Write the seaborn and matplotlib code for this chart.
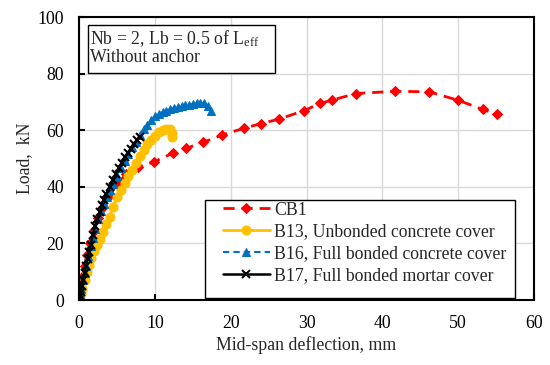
import numpy as np
import pandas as pd
import matplotlib
matplotlib.use("Agg")
import matplotlib.pyplot as plt
from matplotlib.patches import Rectangle
import seaborn as sns

sns.set_style("ticks")
plt.rcParams['font.family'] = ['Liberation Serif', 'DejaVu Serif']
plt.rcParams['mathtext.fontset'] = 'custom'
plt.rcParams['mathtext.rm'] = 'Liberation Serif'
plt.rcParams['mathtext.it'] = 'Liberation Serif:italic'

# load-deflection readings (mm, kN)
cb1_x = [0, 0.2, 0.4, 0.7, 1.0, 1.4, 1.9, 2.5, 3.2, 4.0, 5.0, 6.2, 7.8, 9.9, 12.4, 14.1, 16.3,
         18.8, 21.7, 24.0, 26.3, 29.7, 31.8, 33.4, 36.5, 41.6, 46.2, 50.0, 53.2, 55.1]
cb1_y = [0, 4, 8, 12, 16, 20, 24.5, 29, 33, 37, 41, 44.5, 47, 48.9, 52.0, 53.6, 55.7,
         58.3, 60.7, 62.4, 63.9, 67.0, 69.5, 70.7, 73.0, 73.8, 73.6, 70.6, 67.4, 65.7]

b13_x = [0, 0.2, 0.4, 0.7, 1.0, 1.3, 1.6, 2.0, 2.4, 2.8, 3.2, 3.6, 4.0, 4.5, 5.0, 5.5, 6.0,
         6.5, 7.0, 7.5, 8.0, 8.5, 9.0, 9.5, 10.0, 10.5, 11.0, 11.5, 12.0, 12.2, 12.3]
b13_y = [0, 2, 4, 7, 10, 12.5, 15, 17.5, 19.5, 21.5, 24, 27, 29.5, 33, 36.5, 39, 41.5,
         44, 46, 48.5, 51, 53, 55, 56.5, 58, 59.5, 60.2, 60.6, 60.5, 59, 57.5]

b16_x = [0, 0.15, 0.3, 0.5, 0.7, 0.9, 1.2, 1.5, 1.8, 2.1, 2.5, 2.9, 3.3, 3.7, 4.1, 4.5, 5.0,
         5.5, 6.0, 6.5, 7.0, 7.5, 8.0, 8.5, 9.0, 9.5, 10.0, 10.5, 11.0, 11.5, 12.0, 12.5,
         13.0, 13.5, 14.0, 14.5, 15.0, 15.5, 16.0, 16.5, 17.0, 17.4]
b16_y = [0, 2, 4, 7, 9.5, 12, 15.5, 19, 22, 25, 28.5, 31.5, 34, 36.5, 39, 41, 44,
         46.5, 49, 51.5, 54, 56, 58.5, 60.5, 62, 63.5, 65, 65.8, 66.5, 67, 67.5, 67.8,
         68.2, 68.5, 68.8, 69, 69.3, 69.5, 69.8, 69.5, 68.5, 67]

b17_x = [0, 0.1, 0.2, 0.35, 0.5, 0.7, 0.9, 1.1, 1.3, 1.5, 1.8, 2.1, 2.4, 2.7, 3.0, 3.3,
         3.6, 4.0, 4.4, 4.8, 5.2, 5.6, 6.0, 6.4, 6.8, 7.2, 7.6, 8.0]
b17_y = [0, 1.5, 3, 5, 7, 9.5, 12, 14.5, 17, 19.5, 23, 26, 28.5, 31, 33.5, 35.5,
         37.5, 40, 42.5, 44.5, 46.5, 48.5, 50.5, 52, 53.5, 55, 56.5, 57.5]

fs = 12.8

fig, ax = plt.subplots(figsize=(5.5, 3.65), dpi=100)
fig.subplots_adjust(left=0.144, right=0.971, bottom=0.178, top=0.953)

sns.lineplot(x=cb1_x, y=cb1_y, ax=ax, sort=False, estimator=None, color='#FF0000',
             linestyle=(0, (4, 2.5)), linewidth=2, marker='D', markersize=5,
             markeredgecolor='#FF0000', label='CB1')
sns.lineplot(x=b13_x, y=b13_y, ax=ax, sort=False, estimator=None, color='#FFC000',
             linewidth=2, marker='o', markersize=6.5, markeredgecolor='#FFC000',
             label='B13, Unbonded concrete cover')
sns.lineplot(x=b16_x, y=b16_y, ax=ax, sort=False, estimator=None, color='#0070C0',
             linestyle=(0, (3, 2)), linewidth=1.5, marker='^', markersize=6,
             markeredgecolor='#0070C0', label='B16, Full bonded concrete cover')
sns.lineplot(x=b17_x, y=b17_y, ax=ax, sort=False, estimator=None, color='black',
             linewidth=1.8, marker='x', markersize=6, markeredgewidth=1.5,
             markeredgecolor='black', label='B17, Full bonded mortar cover')

ax.set_xlim(0, 60)
ax.set_ylim(0, 100)
ax.set_xticks(range(0, 61, 10))
ax.set_yticks(range(0, 101, 20))
ax.grid(True, color='#D9D9D9', linewidth=1)
ax.set_axisbelow(True)
for s in ax.spines.values():
    s.set_linewidth(1.5)
    s.set_color('black')
ax.tick_params(direction='in', length=4, width=1.5, labelsize=fs, colors='black', pad=11)
ax.set_xlabel('Mid-span deflection, mm', fontsize=fs, labelpad=3)
ax.set_ylabel('Load,  kN', fontsize=fs, labelpad=3)

# note box
ax.add_patch(Rectangle((0.0198, 0.802), 0.411, 0.170, transform=ax.transAxes,
                       facecolor='white', edgecolor='black', linewidth=1, zorder=5))
ax.text(0.024, 0.962, 'Nb = 2, Lb = 0.5 of L$_{\\mathrm{eff}}$\nWithout anchor',
        transform=ax.transAxes, va='top', ha='left', fontsize=fs, linespacing=1.0, zorder=6)

# legend with an Excel-like wide frame
ax.add_patch(Rectangle((0.277, 0.007), 0.681, 0.346, transform=ax.transAxes,
                       facecolor='white', edgecolor='black', linewidth=1, zorder=5))
leg = ax.legend(loc='upper left', bbox_to_anchor=(0.316, 0.348), fontsize=fs,
                frameon=False, handlelength=2.65, borderpad=0, labelspacing=0.28,
                handletextpad=0.22, borderaxespad=0)
leg.set_zorder(6)

fig.savefig('out.png', dpi=100)
